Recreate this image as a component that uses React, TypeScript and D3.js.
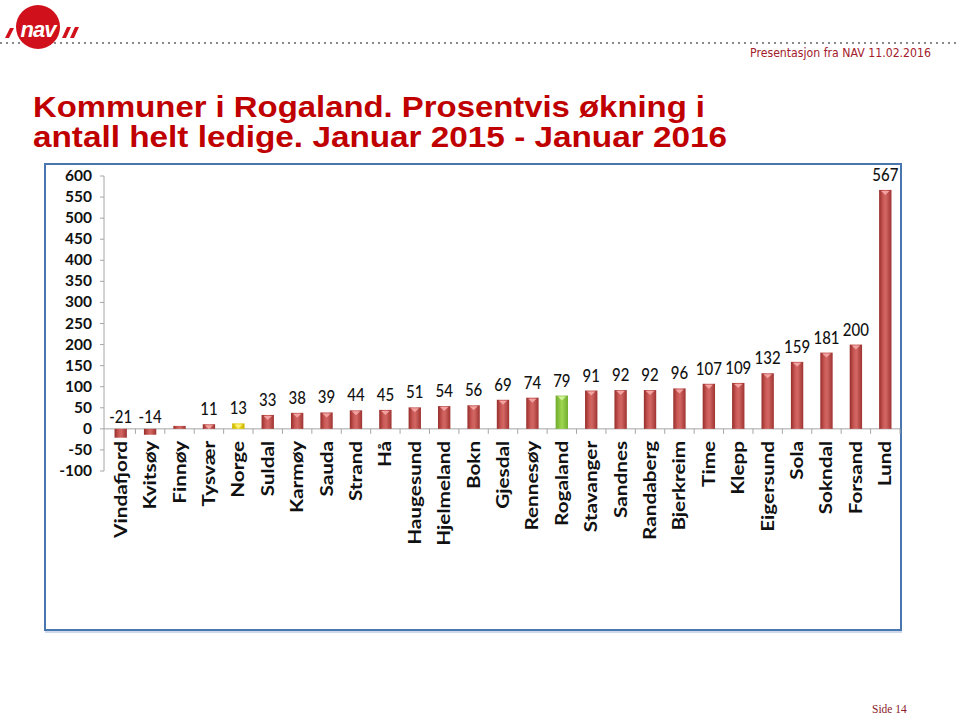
import React from "react";
import * as d3 from "d3";

const categories = [
  "Vindafjord", "Kvitsøy", "Finnøy", "Tysvær", "Norge", "Suldal", "Karmøy", "Sauda", "Strand", "Hå",
  "Haugesund", "Hjelmeland", "Bokn", "Gjesdal", "Rennesøy", "Rogaland", "Stavanger", "Sandnes", "Randaberg",
  "Bjerkreim", "Time", "Klepp", "Eigersund", "Sola", "Sokndal", "Forsand", "Lund",
];
const values = [-21, -14, 7, 11, 13, 33, 38, 39, 44, 45, 51, 54, 56, 69, 74, 79, 91, 92, 92, 96, 107, 109, 132, 159, 181, 200, 567];
const showLabel = [true, true, false, true, true, true, true, true, true, true, true, true, true, true, true, true, true, true, true, true, true, true, true, true, true, true, true];
const yTicks = [600, 550, 500, 450, 400, 350, 300, 250, 200, 150, 100, 50, 0, -50, -100];
const titleLines = ["Kommuner i Rogaland. Prosentvis økning i", "antall helt ledige. Januar 2015  - Januar 2016"];
const titleWidths = [672, 694];
const headerText = "Presentasjon  fra NAV  11.02.2016";
const footerText = "Side  14";

const W = 960;
const H = 717;

export default function App() {
  const y = d3.scaleLinear().domain([-100, 600]).range([471, 176]);
  const x = d3.scaleBand<string>().domain(categories).range([106, 900]).paddingInner(0).paddingOuter(0);
  const step = x.step();
  const bw = step * 0.42;
  const y0 = y(0);

  const gradFor = (c: string) => (c === "Norge" ? "gYellow" : c === "Rogaland" ? "gGreen" : "gRed");
  const capFor = (c: string) => (c === "Norge" ? "#FFF27A" : c === "Rogaland" ? "#D4F29A" : "#F2A3A1");

  return (
    <div style={{ position: "absolute", left: 0, top: 0 }}>
      <svg width={W} height={H} style={{ display: "block", background: "#fff" }}>
        <defs>
          <linearGradient id="gRed" x1="0" x2="1" y1="0" y2="0">
            <stop offset="0%" stopColor="#962D2A" />
            <stop offset="35%" stopColor="#CC5B58" />
            <stop offset="55%" stopColor="#D16663" />
            <stop offset="100%" stopColor="#9E3331" />
          </linearGradient>
          <linearGradient id="gYellow" x1="0" x2="1" y1="0" y2="0">
            <stop offset="0%" stopColor="#C9B300" />
            <stop offset="50%" stopColor="#F3DF1E" />
            <stop offset="100%" stopColor="#C9B300" />
          </linearGradient>
          <linearGradient id="gGreen" x1="0" x2="1" y1="0" y2="0">
            <stop offset="0%" stopColor="#6FAA2C" />
            <stop offset="50%" stopColor="#9ED650" />
            <stop offset="100%" stopColor="#72AE30" />
          </linearGradient>
        </defs>

        {/* header dotted line */}
        <line x1={0} x2={W} y1={43} y2={43} stroke="#8A8A8A" strokeWidth={2} strokeDasharray="2,4" />
        {/* NAV logo */}
        <g>
          <circle cx={38} cy={27} r={22} fill="#D0101B" />
          <text x={38} y={37} textAnchor="middle" fill="#fff" fontFamily="Liberation Sans, Arial" fontWeight={700} fontStyle="italic" fontSize={22} letterSpacing={-1}>nav</text>
          <polygon points="5,38 9,38 14,28 10,28" fill="#D0101B" />
          <polygon points="62,38 66,38 71,27 67,27" fill="#D0101B" />
          <polygon points="70,38 74,38 79,27 75,27" fill="#D0101B" />
        </g>
        <text x={931} y={57} textAnchor="end" fill="#A3202A" fontFamily="DejaVu Sans, Verdana" fontSize={12.5} textLength={181} lengthAdjust="spacingAndGlyphs">{headerText}</text>

        {/* title */}
        {titleLines.map((t, i) => (
          <text key={i} x={33} y={117 + i * 30} fill="#C00000" fontFamily="Liberation Sans, Arial" fontWeight={700} fontSize={30} textLength={titleWidths[i]} lengthAdjust="spacingAndGlyphs">{t}</text>
        ))}

        {/* chart frame */}
        <rect x={45} y={164} width={856} height={466} fill="#fff" stroke="#4A76B0" strokeWidth={2} />
        <line x1={45} x2={902} y1={632} y2={632} stroke="#9DB5D6" strokeWidth={1} />

        {/* y axis */}
        <line x1={104} x2={104} y1={y(600)} y2={y(-100)} stroke="#A6A6A6" strokeWidth={1} />
        {yTicks.map((t) => (
          <g key={t}>
            <line x1={100} x2={104} y1={y(t)} y2={y(t)} stroke="#A6A6A6" />
            <text x={92} y={y(t) + 5} textAnchor="end" fontFamily="Lato, Open Sans, sans-serif" fontWeight={700} fontSize={15.5} fill="#111">{t}</text>
          </g>
        ))}

        {/* x axis */}
        <line x1={104} x2={900} y1={y0} y2={y0} stroke="#A6A6A6" strokeWidth={1} />
        {categories.map((c) => (
          <line key={c} x1={(x(c) as number) + step} x2={(x(c) as number) + step} y1={y0} y2={y0 + 5} stroke="#A6A6A6" />
        ))}

        {/* bars */}
        {categories.map((c, i) => {
          const v = values[i];
          const cx = (x(c) as number) + step / 2;
          const top = Math.min(y(v), y0);
          const h = Math.abs(y(v) - y0);
          const capY = v >= 0 ? top : top + h;
          return (
            <g key={c}>
              <rect x={cx - bw / 2} y={top} width={bw} height={h} fill={`url(#${gradFor(c)})`} />
              {h > 4 && v >= 0 && (
                <path d={`M${cx - bw / 2 + 2},${capY + 1} L${cx + bw / 2 - 2},${capY + 1} L${cx},${capY + 5} Z`} fill={capFor(c)} />
              )}
              {showLabel[i] && (
                <text transform={`translate(${cx},${v >= 0 ? y(v) - 9 : y0 - 6}) scale(1,1.18)`} textAnchor="middle" fontFamily="Lato, Open Sans, sans-serif" fontWeight={500} fontSize={15} fill="#111">{v}</text>
              )}
              <text transform={`translate(${cx + 6},${y0 + 12}) rotate(-90) scale(1.22,1)`} textAnchor="end" fontFamily="Lato, Open Sans, sans-serif" fontWeight={700} fontSize={17} fill="#111">{c}</text>
            </g>
          );
        })}

        {/* footer */}
        <text x={872} y={713} fill="#8B1A2B" fontFamily="Liberation Serif, Times New Roman, serif" fontSize={11.5}>{footerText}</text>
      </svg>
    </div>
  );
}
